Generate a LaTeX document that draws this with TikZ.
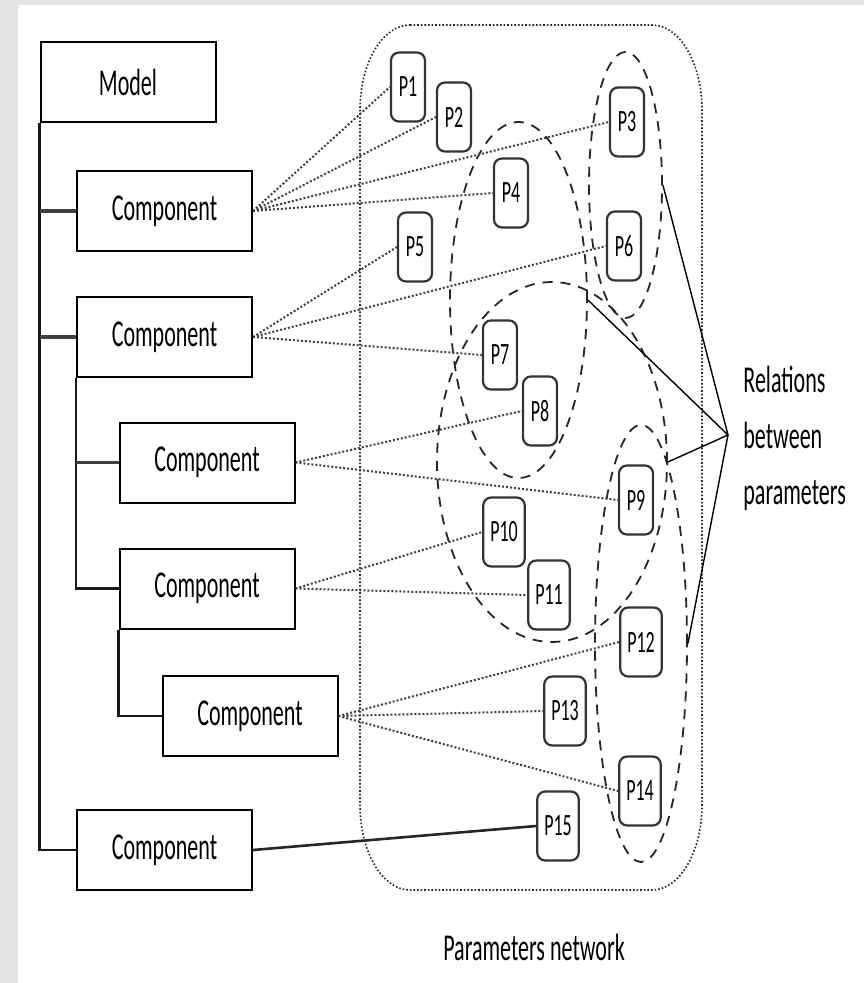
\documentclass[tikz,border=0pt]{standalone}
\usepackage{fontspec}
\setmainfont{Carlito}[FakeStretch=0.58]
\usetikzlibrary{shapes.geometric}

\begin{document}
\begin{tikzpicture}[x=0.5pt,y=-0.5pt,
  comp/.style={draw,line width=1pt,minimum width=87.5pt,minimum height=40pt,inner sep=0pt,font=\fontsize{19}{23}\selectfont},
  param/.style={draw=black!80,line width=1.1pt,rounded corners=4pt,fill=white,minimum width=17pt,minimum height=34.5pt,inner xsep=3.5pt,inner ysep=0pt,font=\fontsize{15.5}{18}\selectfont},
  group/.style={draw=black!85,ellipse,dash pattern=on 5pt off 4pt,line width=0.9pt,inner sep=0pt},
  trunk/.style={line width=1.1pt,black!90},
  branch/.style={line width=1.7pt,black!75},
  link/.style={line width=1pt,black!75,densely dotted}]
\useasboundingbox (0,0) rectangle (864,983);
\fill[black!10] (0,0) rectangle (864,983);
\fill[white] (18,5) rectangle (864,983);

\draw[black!85,line width=0.8pt,densely dotted] (410,25) -- (652,25)
    arc[start angle=-90,end angle=0,x radius=50,y radius=85] -- (702,805)
    arc[start angle=0,end angle=90,x radius=50,y radius=85] -- (410,890)
    arc[start angle=90,end angle=180,x radius=50,y radius=85] -- (360,110)
    arc[start angle=180,end angle=270,x radius=50,y radius=85] -- cycle;

\node[group,minimum width=36.5pt,minimum height=133pt] (g1) at (625.5,185) {};
\node[group,minimum width=68.5pt,minimum height=178pt] (g2) at (518.5,300) {};
\node[group,minimum width=115pt,minimum height=180pt] (g3) at (552,462) {};
\node[group,minimum width=46pt,minimum height=218.5pt] (g4) at (641,643.5) {};

\node[comp] (model) at (128,82) {Model};
\node[comp] (c1) at (164.5,211) {Component};
\node[comp] (c2) at (164.5,337) {Component};
\node[comp] (c3) at (207,462.5) {Component};
\node[comp] (c4) at (207,588.5) {Component};
\node[comp] (c5) at (250,716) {Component};
\node[comp] (c6) at (164.5,850) {Component};

\node[param] (p1) at (408,87) {P1};
\node[param] (p2) at (454,117) {P2};
\node[param] (p3) at (627,122) {P3};
\node[param] (p4) at (511,193) {P4};
\node[param] (p5) at (415,247) {P5};
\node[param] (p6) at (624,246) {P6};
\node[param] (p7) at (500,355) {P7};
\node[param] (p8) at (540,411) {P8};
\node[param] (p9) at (636,500) {P9};
\node[param] (p10) at (504,532) {P10};
\node[param] (p11) at (549,595) {P11};
\node[param] (p12) at (641,642) {P12};
\node[param] (p13) at (565,711) {P13};
\node[param] (p14) at (640,791) {P14};
\node[param] (p15) at (558,826) {P15};

\draw[trunk] (model.south west) |- (c6.west);
\draw[trunk] (c2.south west) |- (c4.west);
\draw[trunk] (c4.south west) |- (c5.west);
\draw[branch] (model.south west |- c1.west) -- (c1.west)
              (model.south west |- c2.west) -- (c2.west)
              (c2.south west |- c3.west) -- (c3.west);

\draw[link] (c1.east) -- (p1.west)  (c1.east) -- (p2.west)
            (c1.east) -- (p3.west)  (c1.east) -- (p4.west)
            (c2.east) -- (p5.west)  (c2.east) -- (p6.west)
            (c2.east) -- (p7.west)
            (c3.east) -- (p8.west)  (c3.east) -- (p9.west)
            (c4.east) -- (p10.west) (c4.east) -- (p11.west)
            (c5.east) -- (p12.west) (c5.east) -- (p13.west)
            (c5.east) -- (p14.west);
\draw[line width=1.3pt,black!85] (c6.east) -- (p15.west);

\node[anchor=west,align=left,inner sep=0pt,font=\fontsize{19}{28}\selectfont] (rel) at (743,438) {Relations\\between\\parameters};
\coordinate (relpt) at (728,435);
\draw[line width=0.7pt] (g1.east) -- (relpt) -- (g4.east)
                        (g2.east) -- (relpt) -- (g3.east);

\node[font=\fontsize{19}{23}\selectfont] (netlabel) at (534,947) {Parameters network};
\end{tikzpicture}
\end{document}
